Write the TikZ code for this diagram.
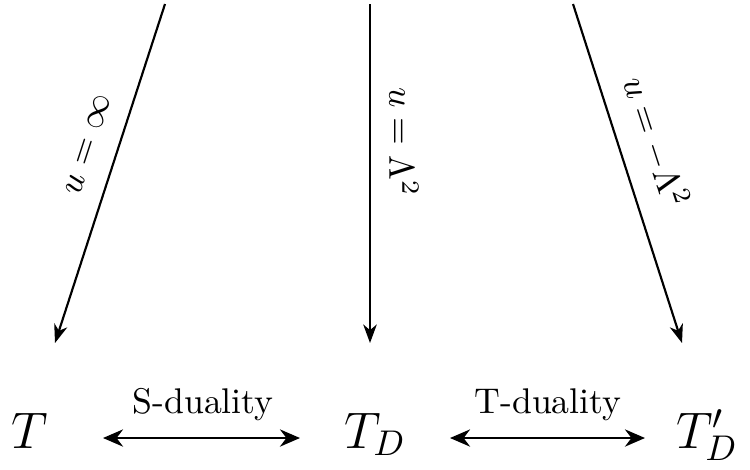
\documentclass[tikz,border=0pt]{standalone}
\usetikzlibrary{arrows.meta}
\begin{document}
\begin{tikzpicture}[x=0.28pt,y=-0.28pt,
  conn/.style={line width=0.6pt,-{Stealth[length=5.2pt,width=3.8pt,inset=1.6pt]}},
  dconn/.style={line width=0.75pt,{Stealth[length=5.6pt,width=4.8pt,inset=1.8pt]}-{Stealth[length=5.6pt,width=4.8pt,inset=1.8pt]}},
  theory/.style={font=\Large,anchor=base,inner sep=0pt},
  lbl/.style={inner sep=0pt}]
\useasboundingbox (0,0) rectangle (750,469);
% top free ends and arrow tips
\coordinate (a1) at (165,4);
\coordinate (a2) at (370,4);
\coordinate (a3) at (573,4);
\coordinate (b1) at (55,343);
\coordinate (b2) at (370,343);
\coordinate (b3) at (682,343);
\draw[conn] (a1) -- (b1);
\draw[conn] (a2) -- (b2);
\draw[conn] (a3) -- (b3);
\node[lbl,rotate=72] (l1) at (88,145) {$u=\infty$};
\node[lbl,rotate=-90] (l2) at (404,142) {$u=\Lambda^2$};
\node[lbl,rotate=-72] (l3) at (656,142) {$u=-\Lambda^2$};
% bottom row
\node[theory] (T) at (30,448) {$T$};
\node[theory] (TD) at (375,448) {$T_D$};
\node[theory] (TDp) at (707,448) {$T'_D$};
\coordinate (s1) at (103,438);
\coordinate (s2) at (300,438);
\coordinate (t1) at (450,438);
\coordinate (t2) at (645,438);
\draw[dconn] (s1) -- (s2);
\draw[dconn] (t1) -- (t2);
\node[lbl] (sd) at (203,405) {S-duality};
\node[lbl] (td) at (548,405) {T-duality};
\end{tikzpicture}
\end{document}
